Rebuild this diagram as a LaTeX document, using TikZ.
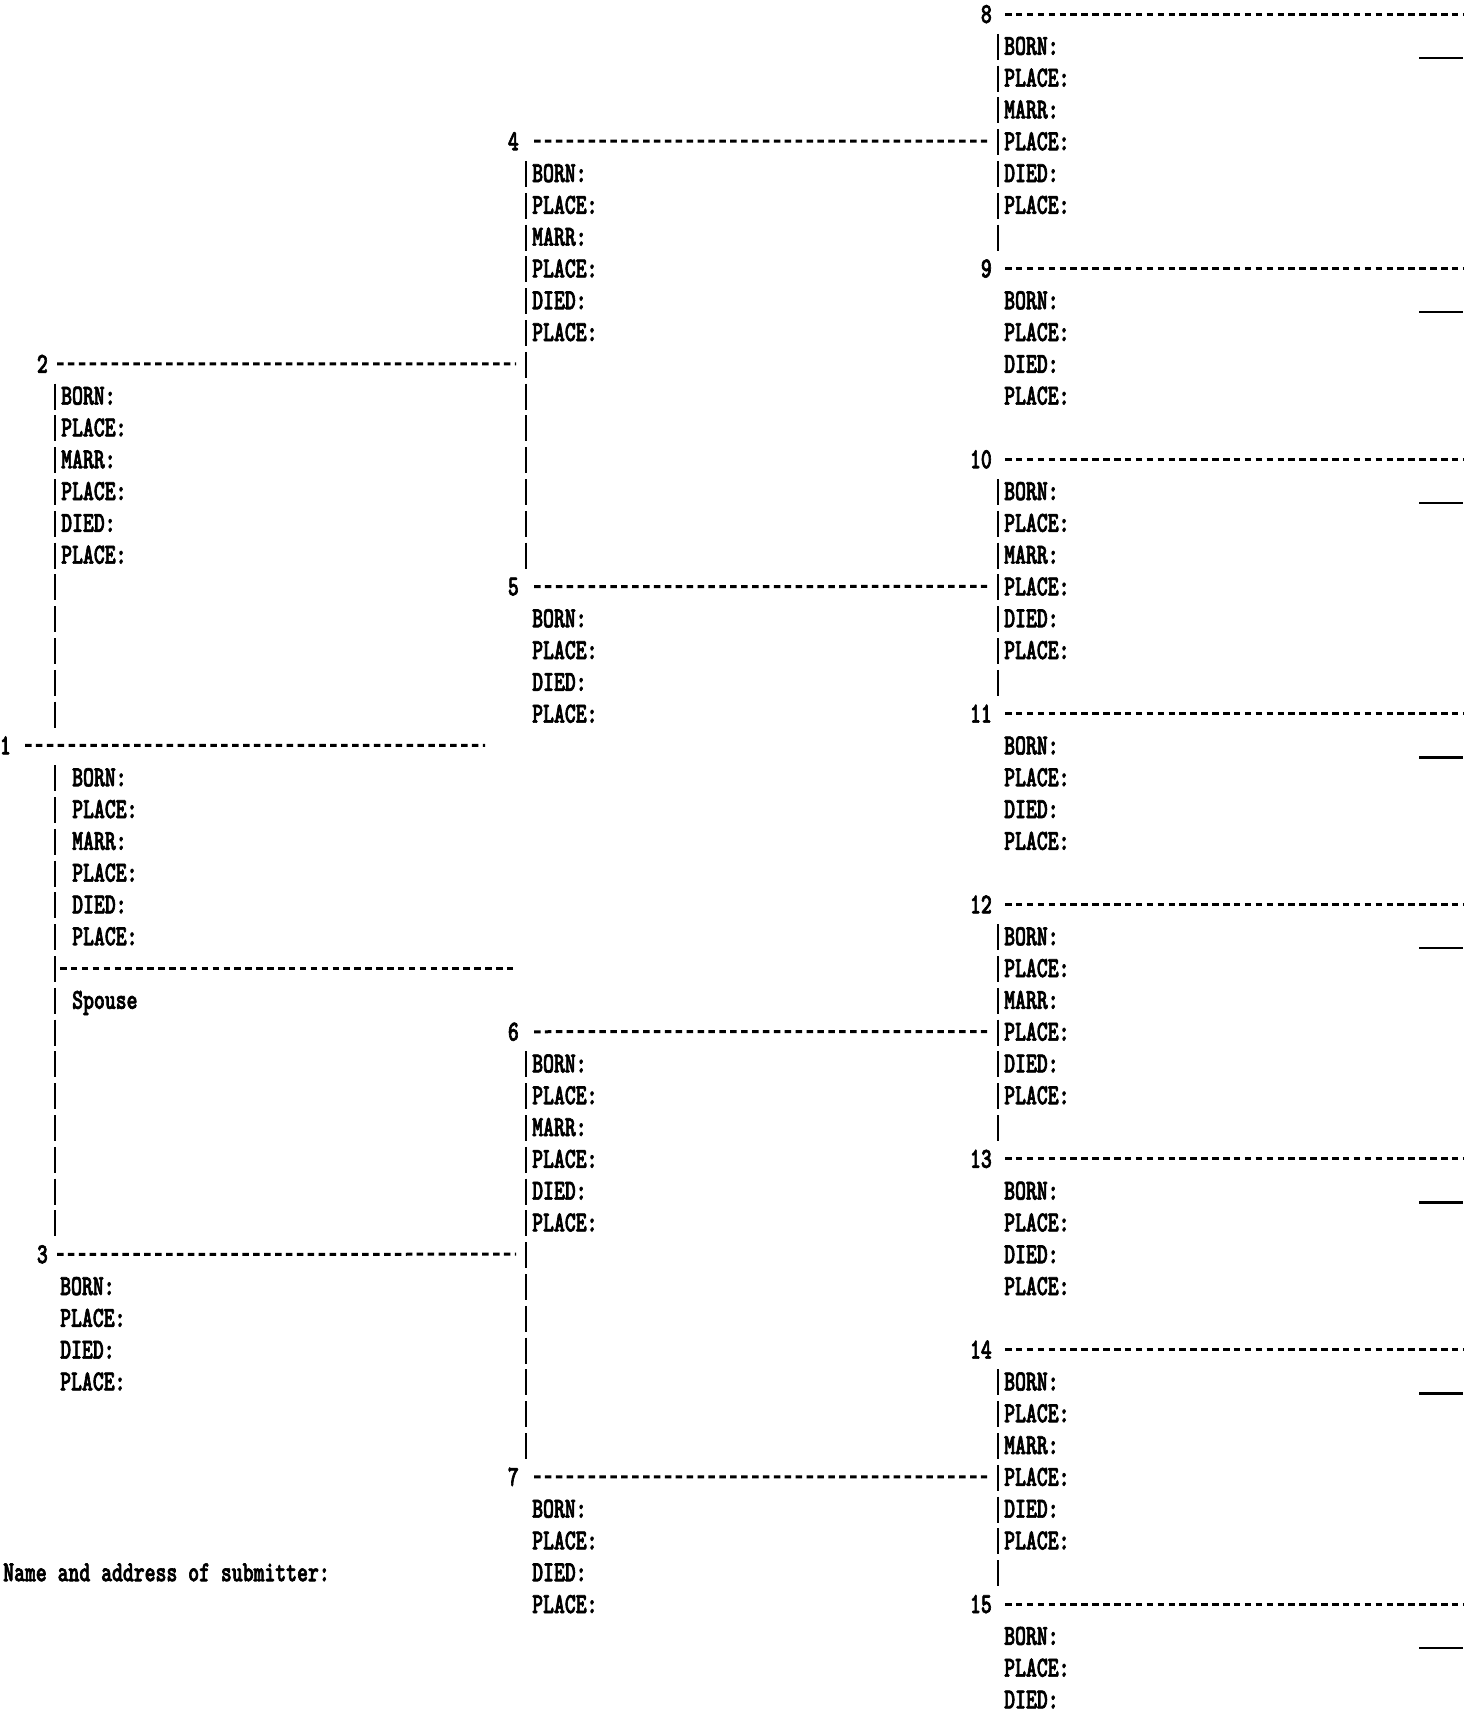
\documentclass[tikz,border=0pt]{standalone}
\usepackage{fontspec}
\newfontfamily\typew[Extension=.otf,FakeStretch=0.715,FakeBold=2.2]{lmmonolt10-bold}
\newcommand\RY[1]{14+31.8*(#1)}
\newcommand\fieldset[4]{%
  \foreach \t [count=\i from 0] in {#4}{%
    \node[fld] (#1-\i) at (#2,{\RY{#3+\i}+9}) {\t};}}
\tikzset{
  dl/.style={line width=3pt, dash pattern=on 6.5pt off 4.4pt},
  vb/.style={line width=2.3pt, dash pattern=on 26pt off 5.8pt},
  ul/.style={line width=2.3pt},
  fld/.style={anchor=base west, inner sep=0pt, font=\typew\fontsize{29}{32}\selectfont},
  num/.style={anchor=base east, inner sep=0pt, font=\typew\fontsize{29}{32}\selectfont},
}
\begin{document}
\begin{tikzpicture}[x=1pt,y=-1pt]
\useasboundingbox[fill=white] (0,0) rectangle (1473,1716);

% ---------- number labels ----------
\node[num] (n1) at (11,{\RY{23}+9}) {1};
\node[num] (n2) at (48,{\RY{11}+9}) {2};
\node[num] (n3) at (48,{\RY{39}+9}) {3};
\node[num] (n4) at (519,{\RY{4}+9}) {4};
\node[num] (n5) at (519,{\RY{18}+9}) {5};
\node[num] (n6) at (519,{\RY{32}+9}) {6};
\node[num] (n7) at (519,{\RY{46}+9}) {7};
\node[num] (n8) at (992,{\RY{0}+9}) {8};
\node[num] (n9) at (992,{\RY{8}+9}) {9};
\node[num] (n10) at (992,{\RY{14}+9}) {10};
\node[num] (n11) at (992,{\RY{22}+9}) {11};
\node[num] (n12) at (992,{\RY{28}+9}) {12};
\node[num] (n13) at (992,{\RY{36}+9}) {13};
\node[num] (n14) at (992,{\RY{42}+9}) {14};
\node[num] (n15) at (992,{\RY{50}+9}) {15};

% ---------- field texts ----------
\fieldset{f1}{72}{24}{BORN:,PLACE:,MARR:,PLACE:,DIED:,PLACE:}
\node[fld] (spouse) at (72,{\RY{31}+9}) {Spouse};
\fieldset{f2}{61}{12}{BORN:,PLACE:,MARR:,PLACE:,DIED:,PLACE:}
\fieldset{f3}{60}{40}{BORN:,PLACE:,DIED:,PLACE:}
\fieldset{f4}{532}{5}{BORN:,PLACE:,MARR:,PLACE:,DIED:,PLACE:}
\fieldset{f5}{532}{19}{BORN:,PLACE:,DIED:,PLACE:}
\fieldset{f6}{532}{33}{BORN:,PLACE:,MARR:,PLACE:,DIED:,PLACE:}
\fieldset{f7}{532}{47}{BORN:,PLACE:,DIED:,PLACE:}
\fieldset{f8}{1004}{1}{BORN:,PLACE:,MARR:,PLACE:,DIED:,PLACE:}
\fieldset{f9}{1004}{9}{BORN:,PLACE:,DIED:,PLACE:}
\fieldset{f10}{1004}{15}{BORN:,PLACE:,MARR:,PLACE:,DIED:,PLACE:}
\fieldset{f11}{1004}{23}{BORN:,PLACE:,DIED:,PLACE:}
\fieldset{f12}{1004}{29}{BORN:,PLACE:,MARR:,PLACE:,DIED:,PLACE:}
\fieldset{f13}{1004}{37}{BORN:,PLACE:,DIED:,PLACE:}
\fieldset{f14}{1004}{43}{BORN:,PLACE:,MARR:,PLACE:,DIED:,PLACE:}
\fieldset{f15}{1004}{51}{BORN:,PLACE:,DIED:}
\node[fld] (sub) at (3,{\RY{49}+9}) {Name and address of submitter:};

% ---------- junction coordinates ----------
\coordinate (j2) at (526,{\RY{11}});
\coordinate (j3) at (526,{\RY{39}});
\coordinate (j4) at (987,{\RY{4}});
\coordinate (j5) at (987,{\RY{18}});
\coordinate (j6) at (987,{\RY{32}});
\coordinate (j7) at (987,{\RY{46}});
\coordinate (e1) at (485,{\RY{23}});
\coordinate (sp0) at (60,{\RY{30}});
\coordinate (sp1) at (516,{\RY{30}});

% ---------- horizontal dashed connectors ----------
\draw[dl] (n1.east) ++(14,0) -- (e1);
\draw[dl] (n2.east) ++(9,0) -- ([xshift=-10pt]j2);
\draw[dl] (n3.east) ++(9,0) -- ([xshift=-10pt]j3);
\foreach \k in {4,5,6,7}{\draw[dl] (n\k.east) ++(15,0) -- (j\k);}
\foreach \k in {8,...,15}{\draw[dl] (n\k.east) ++(13,0) -- ++(458,0) coordinate (end\k);}
\draw[dl] (sp0) -- (sp1);

% ---------- vertical bar connectors ----------
\draw[vb] (55,{\RY{12}-12}) -- (55,{\RY{22}+14});
\draw[vb] (55,{\RY{24}-12}) -- (55,{\RY{38}+14});
\draw[vb] (526,{\RY{5}-12}) -- (526,{\RY{17}+14});
\draw[vb] (526,{\RY{33}-12}) -- (526,{\RY{45}+14});
\foreach \a/\b in {1/7,15/21,29/35,43/49}{%
  \draw[vb] (998,{\RY{\a}-12}) -- (998,{\RY{\b}+14});}

% ---------- short underlines at right ----------
\foreach \r in {1,9,15,23,29,37,43,51}{%
  \draw[ul] (1419,{\RY{\r}+12}) -- (1463,{\RY{\r}+12});}
\end{tikzpicture}
\end{document}
